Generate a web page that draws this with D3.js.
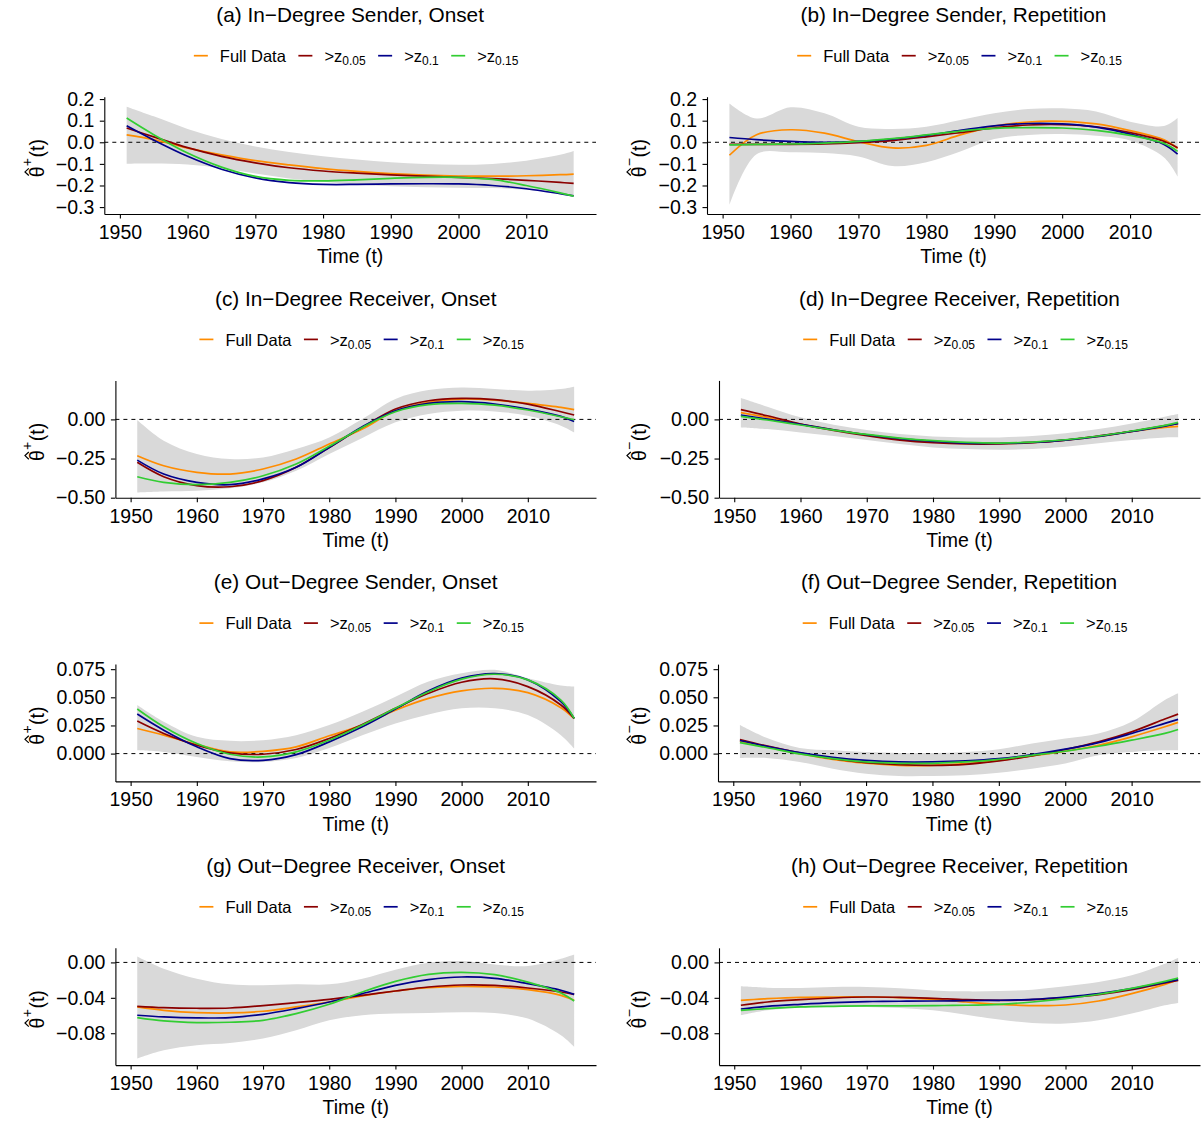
<!DOCTYPE html>
<html>
<head>
<meta charset="utf-8">
<script src="https://cdn.jsdelivr.net/npm/d3@7"></script>
<style>
  html, body { margin: 0; padding: 0; background: #fff; }
  svg { display: block; }
  text { font-family: "Liberation Sans", Arial, Helvetica, sans-serif; fill: #000; }
</style>
</head>
<body>
<svg id="chart" width="1203" height="1124"></svg>
<script>
// ---------------- data ----------------
const years = [1951, 1955, 1960, 1965, 1970, 1975, 1980, 1985, 1990, 1995, 2000, 2005, 2010, 2015, 2017];
const xTicks = [1950, 1960, 1970, 1980, 1990, 2000, 2010];

const seriesLabels = ["Full Data", ">z", ">z", ">z"];
const seriesSubs = ["", "0.05", "0.1", "0.15"];
const seriesColors = ["#FF8C00", "#8B0000", "#00008B", "#32CD32"];

const titles = [
  "(a) In\u2212Degree Sender, Onset",
  "(b) In\u2212Degree Sender, Repetition",
  "(c) In\u2212Degree Receiver, Onset",
  "(d) In\u2212Degree Receiver, Repetition",
  "(e) Out\u2212Degree Sender, Onset",
  "(f) Out\u2212Degree Sender, Repetition",
  "(g) Out\u2212Degree Receiver, Onset",
  "(h) Out\u2212Degree Receiver, Repetition"
];

const yTicksAB = [-0.3, -0.2, -0.1, 0.0, 0.1, 0.2];
const yTicksCD = [-0.5, -0.25, 0.0];
const yTicksEF = [0.0, 0.025, 0.05, 0.075];
const yTicksGH = [-0.08, -0.04, 0.0];

// (a) In-Degree Sender, Onset
const aFull  = [0.034, 0.012, -0.027, -0.058, -0.085, -0.105, -0.122, -0.135, -0.145, -0.152, -0.156, -0.157, -0.155, -0.150, -0.147];
const aZ05   = [0.066, 0.025, -0.025, -0.065, -0.095, -0.118, -0.133, -0.143, -0.151, -0.157, -0.162, -0.168, -0.176, -0.186, -0.190];
const aZ10   = [0.076, 0.010, -0.065, -0.125, -0.165, -0.187, -0.195, -0.195, -0.193, -0.192, -0.193, -0.200, -0.215, -0.238, -0.248];
const aZ15   = [0.112, 0.035, -0.050, -0.115, -0.158, -0.176, -0.179, -0.174, -0.167, -0.162, -0.162, -0.172, -0.200, -0.234, -0.249];
const aUpper = [0.165, 0.120, 0.062, 0.015, -0.020, -0.045, -0.065, -0.080, -0.092, -0.100, -0.104, -0.100, -0.085, -0.058, -0.040];
const aLower = [-0.099, -0.098, -0.103, -0.120, -0.145, -0.168, -0.183, -0.195, -0.203, -0.208, -0.210, -0.212, -0.220, -0.235, -0.245];

// (b) In-Degree Sender, Repetition
const bFull  = [-0.060, 0.035, 0.058, 0.042, 0.003, -0.026, -0.014, 0.034, 0.075, 0.094, 0.097, 0.085, 0.054, 0.011, -0.028];
const bZ05   = [-0.010, -0.010, -0.010, -0.008, -0.002, 0.008, 0.025, 0.045, 0.066, 0.080, 0.082, 0.072, 0.045, 0.005, -0.025];
const bZ10   = [0.022, 0.012, 0.004, 0.000, 0.004, 0.015, 0.032, 0.055, 0.076, 0.087, 0.085, 0.070, 0.038, -0.010, -0.055];
const bZ15   = [-0.012, -0.010, -0.008, -0.004, 0.004, 0.017, 0.034, 0.052, 0.064, 0.068, 0.066, 0.055, 0.032, -0.005, -0.042];
const bUpper = [0.180, 0.110, 0.162, 0.134, 0.072, 0.062, 0.072, 0.103, 0.134, 0.154, 0.157, 0.142, 0.095, 0.075, 0.112];
const bLower = [-0.290, -0.055, -0.046, -0.050, -0.066, -0.110, -0.092, -0.043, 0.015, 0.034, 0.038, 0.030, 0.008, -0.070, -0.158];

// (c) In-Degree Receiver, Onset
const cFull  = [-0.232, -0.296, -0.338, -0.349, -0.317, -0.253, -0.157, -0.062, 0.055, 0.109, 0.130, 0.123, 0.102, 0.077, 0.062];
const cZ05   = [-0.274, -0.366, -0.423, -0.430, -0.391, -0.306, -0.179, -0.051, 0.066, 0.119, 0.134, 0.126, 0.098, 0.049, 0.028];
const cZ10   = [-0.260, -0.349, -0.402, -0.417, -0.380, -0.306, -0.179, -0.047, 0.055, 0.102, 0.113, 0.098, 0.066, 0.019, -0.013];
const cZ15   = [-0.366, -0.402, -0.417, -0.402, -0.360, -0.285, -0.172, -0.051, 0.049, 0.094, 0.102, 0.091, 0.060, 0.017, -0.002];
const cUpper = [-0.004, -0.136, -0.221, -0.253, -0.243, -0.189, -0.115, 0.002, 0.130, 0.187, 0.204, 0.194, 0.183, 0.194, 0.209];
const cLower = [-0.466, -0.460, -0.455, -0.440, -0.402, -0.328, -0.221, -0.119, -0.019, 0.034, 0.055, 0.051, 0.023, -0.040, -0.083];

// (d) In-Degree Receiver, Repetition
const dFull  = [0.043, 0.013, -0.030, -0.066, -0.098, -0.126, -0.143, -0.151, -0.153, -0.147, -0.132, -0.109, -0.077, -0.051, -0.045];
const dZ05   = [0.062, 0.023, -0.030, -0.070, -0.104, -0.132, -0.149, -0.157, -0.157, -0.149, -0.132, -0.106, -0.077, -0.040, -0.028];
const dZ10   = [0.028, 0.002, -0.032, -0.066, -0.098, -0.123, -0.140, -0.151, -0.153, -0.147, -0.132, -0.109, -0.077, -0.043, -0.026];
const dZ15   = [0.019, -0.004, -0.036, -0.068, -0.096, -0.119, -0.136, -0.147, -0.151, -0.145, -0.130, -0.106, -0.074, -0.038, -0.019];
const dUpper = [0.136, 0.081, 0.013, -0.034, -0.068, -0.094, -0.109, -0.115, -0.115, -0.106, -0.089, -0.062, -0.026, 0.017, 0.034];
const dLower = [-0.051, -0.062, -0.083, -0.106, -0.132, -0.157, -0.179, -0.189, -0.194, -0.189, -0.174, -0.153, -0.132, -0.115, -0.115];

// (e) Out-Degree Sender, Onset
const eFull  = [0.0223, 0.0164, 0.0080, 0.0015, 0.0020, 0.0060, 0.0158, 0.0253, 0.0385, 0.0490, 0.0557, 0.0580, 0.0542, 0.0408, 0.0310];
const eZ05   = [0.0289, 0.0179, 0.0074, 0.0006, -0.0006, 0.0036, 0.0134, 0.0259, 0.0402, 0.0536, 0.0634, 0.0664, 0.0595, 0.0432, 0.0313];
const eZ10   = [0.0351, 0.0208, 0.0060, -0.0045, -0.0060, -0.0009, 0.0104, 0.0238, 0.0396, 0.0557, 0.0670, 0.0711, 0.0655, 0.0461, 0.0313];
const eZ15   = [0.0396, 0.0238, 0.0089, -0.0006, -0.0030, 0.0015, 0.0119, 0.0253, 0.0402, 0.0550, 0.0661, 0.0705, 0.0655, 0.0476, 0.0313];
const eUpper = [0.0432, 0.0283, 0.0149, 0.0113, 0.0119, 0.0164, 0.0253, 0.0372, 0.0506, 0.0640, 0.0714, 0.0744, 0.0670, 0.0605, 0.0595];
const eLower = [0.0030, 0.0015, -0.0030, -0.0068, -0.0074, -0.0039, 0.0050, 0.0164, 0.0268, 0.0348, 0.0402, 0.0402, 0.0342, 0.0164, 0.0045];

// (f) Out-Degree Sender, Repetition
const fFull  = [0.0110, 0.0060, 0.0000, -0.0051, -0.0086, -0.0104, -0.0104, -0.0089, -0.0060, -0.0021, 0.0021, 0.0074, 0.0149, 0.0238, 0.0277];
const fZ05   = [0.0125, 0.0068, 0.0006, -0.0045, -0.0080, -0.0098, -0.0104, -0.0095, -0.0065, -0.0021, 0.0036, 0.0104, 0.0193, 0.0307, 0.0351];
const fZ10   = [0.0116, 0.0065, 0.0009, -0.0033, -0.0060, -0.0074, -0.0074, -0.0065, -0.0045, -0.0009, 0.0039, 0.0098, 0.0179, 0.0268, 0.0304];
const fZ15   = [0.0098, 0.0054, -0.0003, -0.0045, -0.0074, -0.0086, -0.0086, -0.0074, -0.0051, -0.0015, 0.0021, 0.0065, 0.0119, 0.0179, 0.0214];
const fUpper = [0.0253, 0.0140, 0.0050, 0.0030, 0.0015, 0.0006, 0.0006, 0.0015, 0.0039, 0.0089, 0.0134, 0.0179, 0.0283, 0.0476, 0.0536];
const fLower = [-0.0039, -0.0039, -0.0074, -0.0134, -0.0179, -0.0199, -0.0199, -0.0193, -0.0170, -0.0134, -0.0089, -0.0015, 0.0015, 0.0030, 0.0030];

// (g) Out-Degree Receiver, Onset
const gFull  = [-0.0503, -0.0541, -0.0567, -0.0571, -0.0552, -0.0503, -0.0447, -0.0379, -0.0323, -0.0285, -0.0270, -0.0278, -0.0308, -0.0372, -0.0428];
const gZ05   = [-0.0496, -0.0511, -0.0518, -0.0515, -0.0488, -0.0454, -0.0417, -0.0372, -0.0323, -0.0278, -0.0255, -0.0259, -0.0289, -0.0334, -0.0361];
const gZ10   = [-0.0597, -0.0616, -0.0627, -0.0623, -0.0586, -0.0522, -0.0447, -0.0353, -0.0259, -0.0195, -0.0165, -0.0180, -0.0240, -0.0315, -0.0361];
const gZ15   = [-0.0623, -0.0661, -0.0680, -0.0676, -0.0654, -0.0578, -0.0473, -0.0334, -0.0214, -0.0135, -0.0113, -0.0139, -0.0222, -0.0346, -0.0436];
const gUpper = [0.0068, -0.0071, -0.0184, -0.0248, -0.0259, -0.0248, -0.0248, -0.0184, -0.0083, -0.0004, 0.0015, -0.0023, -0.0041, 0.0041, 0.0090];
const gLower = [-0.1085, -0.0992, -0.0935, -0.0909, -0.0860, -0.0766, -0.0654, -0.0597, -0.0578, -0.0571, -0.0563, -0.0571, -0.0635, -0.0823, -0.0954];

// (h) Out-Degree Receiver, Repetition
const hFull  = [-0.0428, -0.0409, -0.0394, -0.0391, -0.0391, -0.0398, -0.0417, -0.0447, -0.0473, -0.0488, -0.0481, -0.0436, -0.0353, -0.0248, -0.0195];
const hZ05   = [-0.0484, -0.0447, -0.0421, -0.0402, -0.0391, -0.0394, -0.0406, -0.0421, -0.0428, -0.0421, -0.0398, -0.0364, -0.0308, -0.0233, -0.0203];
const hZ10   = [-0.0526, -0.0496, -0.0473, -0.0454, -0.0443, -0.0439, -0.0436, -0.0432, -0.0428, -0.0417, -0.0391, -0.0353, -0.0297, -0.0225, -0.0195];
const hZ15   = [-0.0541, -0.0522, -0.0503, -0.0496, -0.0492, -0.0492, -0.0488, -0.0484, -0.0473, -0.0447, -0.0409, -0.0360, -0.0293, -0.0214, -0.0177];
const hUpper = [-0.0270, -0.0285, -0.0289, -0.0278, -0.0278, -0.0293, -0.0316, -0.0327, -0.0323, -0.0308, -0.0270, -0.0222, -0.0146, -0.0015, 0.0053];
const hLower = [-0.0597, -0.0541, -0.0511, -0.0503, -0.0503, -0.0515, -0.0541, -0.0590, -0.0646, -0.0684, -0.0691, -0.0654, -0.0578, -0.0484, -0.0458];

// ---------------- panel definitions ----------------
const panels = [
  { title: titles[0], sign: "+",      series: [aFull, aZ05, aZ10, aZ15], upper: aUpper, lower: aLower, yDomain: [-0.332, 0.211], yTicks: yTicksAB, fmt: ".1f" },
  { title: titles[1], sign: "\u2212", series: [bFull, bZ05, bZ10, bZ15], upper: bUpper, lower: bLower, yDomain: [-0.332, 0.211], yTicks: yTicksAB, fmt: ".1f" },
  { title: titles[2], sign: "+",      series: [cFull, cZ05, cZ10, cZ15], upper: cUpper, lower: cLower, yDomain: [-0.5, 0.249],   yTicks: yTicksCD, fmt: ".2f" },
  { title: titles[3], sign: "\u2212", series: [dFull, dZ05, dZ10, dZ15], upper: dUpper, lower: dLower, yDomain: [-0.5, 0.249],   yTicks: yTicksCD, fmt: ".2f" },
  { title: titles[4], sign: "+",      series: [eFull, eZ05, eZ10, eZ15], upper: eUpper, lower: eLower, yDomain: [-0.0247, 0.0795], yTicks: yTicksEF, fmt: ".3f" },
  { title: titles[5], sign: "\u2212", series: [fFull, fZ05, fZ10, fZ15], upper: fUpper, lower: fLower, yDomain: [-0.0247, 0.0795], yTicks: yTicksEF, fmt: ".3f" },
  { title: titles[6], sign: "+",      series: [gFull, gZ05, gZ10, gZ15], upper: gUpper, lower: gLower, yDomain: [-0.116, 0.0165], yTicks: yTicksGH, fmt: ".2f" },
  { title: titles[7], sign: "\u2212", series: [hFull, hZ05, hZ10, hZ15], upper: hUpper, lower: hLower, yDomain: [-0.116, 0.0165], yTicks: yTicksGH, fmt: ".2f" }
];

// ---------------- layout ----------------
const plotLefts = [104.3, 707, 115.4, 719, 115.4, 718, 115.4, 719];
const colX = [0, 602];
const colRight = [596, 1200];
const rowStep = 283.7;
const top0 = 96.7, bottom0 = 214;
const FONT_AXIS = 19.5, FONT_TITLE = 20.8, FONT_LEGEND = 16.5, FONT_SUB = 12;

const svg = d3.select("#chart");

panels.forEach((p, i) => {
  const col = i % 2, row = Math.floor(i / 2);
  const left = plotLefts[i], right = colRight[col];
  const top = top0 + row * rowStep, bottom = bottom0 + row * rowStep;
  const cx = (left + right) / 2;

  const x = d3.scaleLinear().domain([1947.7, 2020.3]).range([left, right]);
  const y = d3.scaleLinear().domain(p.yDomain).range([bottom, top]);

  const g = svg.append("g");

  // ribbon
  const area = d3.area()
    .x((d, k) => x(years[k]))
    .y0((d, k) => y(p.lower[k]))
    .y1((d, k) => y(p.upper[k]))
    .curve(d3.curveCatmullRom.alpha(0.5));
  g.append("path").datum(years).attr("d", area).attr("fill", "#D9D9D9");

  // zero line
  g.append("line")
    .attr("x1", left).attr("x2", right)
    .attr("y1", y(0)).attr("y2", y(0))
    .attr("stroke", "#000").attr("stroke-width", 1).attr("stroke-dasharray", "4,4");

  // series lines
  const line = d3.line()
    .x((d, k) => x(years[k]))
    .y(d => y(d))
    .curve(d3.curveCatmullRom.alpha(0.5));
  p.series.forEach((s, k) => {
    g.append("path").datum(s).attr("d", line)
      .attr("fill", "none").attr("stroke", seriesColors[k]).attr("stroke-width", 1.7);
  });

  // axes
  const xAxis = d3.axisBottom(x).tickValues(xTicks).tickFormat(d3.format("d"))
    .tickSize(4.5).tickSizeOuter(0).tickPadding(6.7);
  const xa = g.append("g").attr("transform", `translate(0,${bottom})`).call(xAxis);
  const yAxis = d3.axisLeft(y).tickValues(p.yTicks).tickFormat(d3.format(p.fmt))
    .tickSize(4.5).tickSizeOuter(0).tickPadding(5.5);
  const ya = g.append("g").attr("transform", `translate(${left},0)`).call(yAxis);
  [xa, ya].forEach(a => {
    a.attr("font-family", null).attr("font-size", null);
    a.select(".domain").attr("stroke", "#000").attr("stroke-width", 1.1);
    a.selectAll(".tick line").attr("stroke", "#000").attr("stroke-width", 1.1);
    a.selectAll(".tick text").attr("fill", "#000").style("font-size", FONT_AXIS + "px");
  });

  // x-axis title
  g.append("text").attr("x", cx).attr("y", bottom + 49.3)
    .attr("text-anchor", "middle").style("font-size", FONT_AXIS + "px").text("Time (t)");

  // y-axis title: theta with hat and superscript sign, rotated
  const yg = g.append("g")
    .attr("transform", `translate(${colX[col] + 44},${(top + bottom) / 2 - 2.5}) rotate(-90)`);
  const th = yg.append("text").attr("x", -24.5).attr("y", 0)
    .style("font-size", FONT_AXIS + "px").text("\u03B8");
  const thW = th.node().getComputedTextLength();
  const thC = -24.5 + thW / 2;
  yg.append("path")
    .attr("d", `M${thC - 3.6},-15.2 L${thC},-19 L${thC + 3.6},-15.2`)
    .attr("fill", "none").attr("stroke", "#000").attr("stroke-width", 1.2);
  yg.append("text").attr("x", -24.5 + thW + 0.3).attr("y", -12.5)
    .style("font-size", "14px").text(p.sign);
  yg.append("text").attr("x", -24.5 + thW + 9).attr("y", 0)
    .style("font-size", FONT_AXIS + "px").text("(t)");

  // panel title
  g.append("text").attr("x", cx).attr("y", 22 + row * rowStep)
    .attr("text-anchor", "middle").style("font-size", FONT_TITLE + "px").text(p.title);

  // legend
  const lg = g.append("g");
  const ly = 55.7 + row * rowStep;
  let lx = 0;
  seriesLabels.forEach((lab, k) => {
    lg.append("line").attr("x1", lx).attr("x2", lx + 14).attr("y1", ly).attr("y2", ly)
      .attr("stroke", seriesColors[k]).attr("stroke-width", 1.7);
    const t = lg.append("text").attr("x", lx + 26).attr("y", ly + 6.3)
      .style("font-size", FONT_LEGEND + "px");
    t.append("tspan").text(lab);
    if (seriesSubs[k]) {
      t.append("tspan").attr("dy", 3).style("font-size", FONT_SUB + "px").text(seriesSubs[k]);
    }
    const w = t.node().getComputedTextLength();
    lx = lx + 26 + w + 12.5;
  });
  const totalW = lx - 12.5;
  lg.attr("transform", `translate(${cx + 6 - totalW / 2},0)`);
});
</script>
</body>
</html>
